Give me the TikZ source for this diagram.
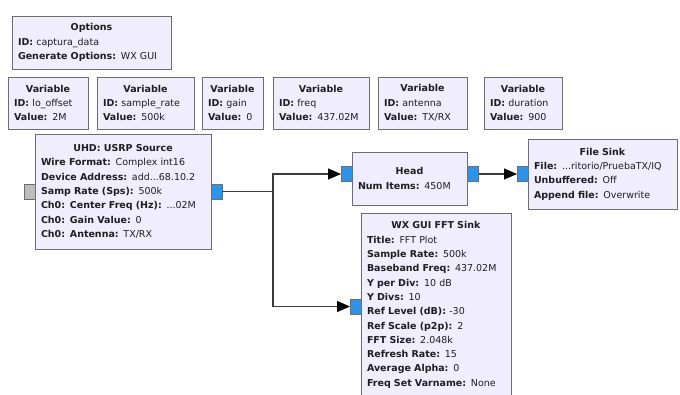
\documentclass[tikz,border=0pt]{standalone}
\usepackage{fontspec}
\setmainfont{DejaVu Sans}[WordSpace=0.85]
\usepackage{xcolor}
\usetikzlibrary{arrows.meta}
\definecolor{blockfill}{HTML}{F0EDFF}
\definecolor{blockline}{HTML}{6E6E6E}
\definecolor{portblue}{HTML}{2B95EE}
\definecolor{portgray}{HTML}{BDBDBD}
\definecolor{wireink}{HTML}{3C3C3C}
\definecolor{textink}{HTML}{1E1E1E}
\newcommand{\blocktitle}[1]{{\centering\textbf{#1}\par}}

\begin{document}
\begin{tikzpicture}[x=1pt,y=-1pt,
  point/.style={coordinate},
  block/.style={draw=blockline, fill=blockfill, line width=1pt, rectangle, anchor=north west,
    inner xsep=6pt, inner ysep=0pt, outer sep=0pt, align=left, text=textink,
    font=\fontsize{9.5}{14.3}\selectfont},
  port/.style={draw=blockline, fill=portblue, line width=0.8pt, rectangle, inner sep=0pt,
    outer sep=0pt, minimum width=11pt, minimum height=15pt},
  inport/.style={port, fill=portgray},
  wire/.style={draw=wireink, line width=1.2pt, -{Triangle[length=13pt,width=11pt,color=black]}}]
\useasboundingbox (0,0) rectangle (680,394);
% options and variables
\node[block, minimum width=159pt, minimum height=53pt, text width=147pt] (opt) at (12,16)
  {\blocktitle{Options}\textbf{ID:} captura\_data\\\textbf{Generate Options:} WX GUI};
\node[block, minimum width=80pt, minimum height=52pt, text width=68pt] (v1) at (8,77)
  {\blocktitle{Variable}\textbf{ID:} lo\_offset\\\textbf{Value:} 2M};
\node[block, minimum width=97pt, minimum height=52pt, text width=85pt] (v2) at (97,77)
  {\blocktitle{Variable}\textbf{ID:} sample\_rate\\\textbf{Value:} 500k};
\node[block, minimum width=61pt, minimum height=52pt, text width=49pt] (v3) at (202,77)
  {\blocktitle{Variable}\textbf{ID:} gain\\\textbf{Value:} 0};
\node[block, minimum width=96pt, minimum height=52pt, text width=84pt] (v4) at (273,77)
  {\blocktitle{Variable}\textbf{ID:} freq\\\textbf{Value:} 437.02M};
\node[block, minimum width=89pt, minimum height=52pt, text width=77pt] (v5) at (378,77)
  {\blocktitle{Variable}\textbf{ID:} antenna\\\textbf{Value:} TX/RX};
\node[block, minimum width=78pt, minimum height=52pt, text width=66pt] (v6) at (484,77)
  {\blocktitle{Variable}\textbf{ID:} duration\\\textbf{Value:} 900};
% signal blocks
\node[block, minimum width=176pt, minimum height=115pt, text width=164pt] (src) at (35,134)
  {\blocktitle{UHD: USRP Source}\textbf{Wire Format:} Complex int16\\
   \textbf{Device Address:} add...68.10.2\\\textbf{Samp Rate (Sps):} 500k\\
   \textbf{Ch0: Center Freq (Hz):} ...02M\\\textbf{Ch0: Gain Value:} 0\\
   \textbf{Ch0: Antenna:} TX/RX};
\node[block, minimum width=115pt, minimum height=53pt, text width=103pt] (head) at (352,152)
  {\blocktitle{Head}\textbf{Num Items:} 450M};
\node[block, minimum width=149pt, minimum height=70pt, text width=137pt] (fsink) at (528,139)
  {\blocktitle{File Sink}\textbf{File:} ...ritorio/PruebaTX/IQ\\
   \textbf{Unbuffered:} Off\\\textbf{Append file:} Overwrite};
\node[block, minimum width=150pt, minimum height=184pt, text width=138pt] (fft) at (361,213)
  {\blocktitle{WX GUI FFT Sink}\textbf{Title:} FFT Plot\\\textbf{Sample Rate:} 500k\\
   \textbf{Baseband Freq:} 437.02M\\\textbf{Y per Div:} 10 dB\\\textbf{Y Divs:} 10\\
   \textbf{Ref Level (dB):} -30\\\textbf{Ref Scale (p2p):} 2\\\textbf{FFT Size:} 2.048k\\
   \textbf{Refresh Rate:} 15\\\textbf{Average Alpha:} 0\\\textbf{Freq Set Varname:} None};
% ports
\node[inport, anchor=east] (src_in) at (35,192) {};
\node[port, anchor=west] (src_out) at (211,191.5) {};
\node[port, anchor=east] (head_in) at (352,174) {};
\node[port, anchor=west] (head_out) at (467.5,174) {};
\node[port, anchor=east] (fsink_in) at (528,174) {};
\node[port, anchor=east] (fft_in) at (361,306.5) {};
\node[point] (split) at (273,191.5) {};
% connections
\draw[wire] (src_out.east) -- (split) |- (head_in.west);
\draw[wire] (split) |- (fft_in.west);
\draw[wire] (head_out.east) -- (fsink_in.west);
\end{tikzpicture}
\end{document}
